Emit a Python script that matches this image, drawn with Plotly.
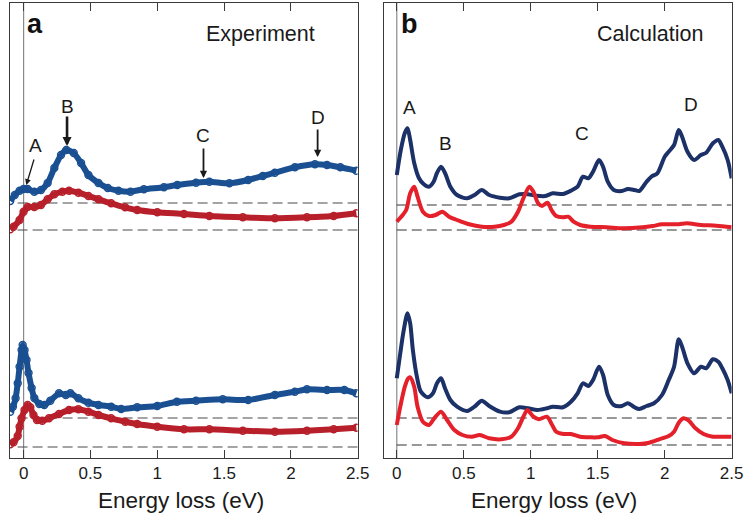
import plotly.graph_objects as go

# ---------------- data (intensity in arbitrary units) ----------------
# Panel a: experiment, top pair
EXP_TOP_BLUE_E = [-0.1, -0.066, -0.03, 0, 0.03, 0.08, 0.13, 0.18, 0.23, 0.28, 0.32, 0.375, 0.43, 0.485,
                  0.56, 0.63, 0.71, 0.8, 0.9, 1.05, 1.15, 1.29, 1.39, 1.54, 1.68, 1.79, 1.88, 2.03, 2.18,
                  2.27, 2.37, 2.49]
EXP_TOP_BLUE_I = [257, 263, 267.3, 269, 269, 266.3, 268, 275, 290, 303, 308, 305, 295, 283,
                  275, 270, 267.3, 266.3, 268.7, 270.7, 273, 275.3, 276.3, 274.7, 278, 282, 285.3, 290.7, 293.7,
                  293, 290.7, 287.3]
EXP_TOP_RED_E = [-0.1, -0.075, -0.03, 0, 0.03, 0.08, 0.13, 0.18, 0.23, 0.29, 0.34, 0.41, 0.485, 0.56,
                 0.655, 0.76, 0.85, 1.0, 1.2, 1.39, 1.64, 1.88, 2.12, 2.32, 2.49]
EXP_TOP_RED_I = [228.7, 231.3, 238, 246.3, 251, 251, 253, 258.7, 263.7, 266.3, 267.3, 265.3, 262, 258.7,
                 254.7, 250.7, 248, 245.7, 244, 242, 240.7, 239.7, 240.7, 242, 244.7]
# Panel a: experiment, bottom pair
EXP_BOT_BLUE_E = [-0.1, -0.08, -0.06, -0.044, -0.03, -0.015, -0.007, 0.007, 0.022, 0.037, 0.06, 0.08,
                  0.118, 0.155, 0.2, 0.265, 0.316, 0.35, 0.41, 0.485, 0.56, 0.655, 0.73, 0.85, 1.0,
                  1.147, 1.29, 1.49, 1.68, 1.88, 2.03, 2.12, 2.27, 2.4, 2.49]
EXP_BOT_BLUE_I = [46.3, 51.3, 59.7, 74.7, 91.3, 108, 113, 108, 98, 85, 70, 60,
                  54, 53, 57.3, 64.7, 63, 64.7, 59.7, 55.3, 53, 51.3, 49, 50.7, 52,
                  56.3, 57.3, 58.7, 58, 63, 66.3, 68.7, 68, 68, 64.7]
EXP_BOT_RED_E = [-0.1, -0.075, -0.044, -0.03, -0.015, 0.007, 0.03, 0.05, 0.074, 0.1, 0.14, 0.19, 0.265,
                 0.34, 0.41, 0.485, 0.56, 0.655, 0.76, 0.85, 1.0, 1.2, 1.39, 1.64, 1.88, 2.12, 2.32, 2.49]
EXP_BOT_RED_I = [13.7, 15.7, 22, 31.3, 39.7, 48, 53, 50.7, 43, 38, 37.3, 39.7, 44,
                 48, 48.7, 46.3, 43, 39.7, 36.3, 34, 31.3, 28.7, 28.7, 27.3, 26.3, 27.3, 28.7, 30.3]

# Panel b: calculation, top pair
CALC_TOP_BLUE_E = [0, 0.03, 0.06, 0.08, 0.1, 0.13, 0.165, 0.2, 0.24, 0.275, 0.3, 0.33, 0.36, 0.4, 0.45,
                   0.525, 0.58, 0.635, 0.69, 0.77, 0.84, 0.915, 0.965, 1.04, 1.11, 1.165, 1.24, 1.3, 1.35,
                   1.39, 1.43, 1.465, 1.51, 1.54, 1.575, 1.62, 1.68, 1.725, 1.775, 1.81, 1.865, 1.9, 1.945,
                   2.0, 2.03, 2.07, 2.105, 2.13, 2.17, 2.22, 2.27, 2.31, 2.36, 2.4, 2.43, 2.47, 2.5]
CALC_TOP_BLUE_I = [283, 308, 325, 329.7, 318, 295, 280, 274, 271.3, 276.3, 285, 291.3, 285, 271.3, 263,
                   259.7, 263, 268, 263, 260.3, 259.7, 263.7, 264, 262.3, 262, 264.7, 264, 267.3, 271.3,
                   281.3, 279.7, 286.3, 298, 291.3, 276.3, 268, 267, 269, 268, 267, 276.3, 281.3, 284.7,
                   301.3, 306.3, 313, 328, 321.3, 306.3, 298, 303, 305.3, 314.7, 318, 311.3, 298, 279.7]
CALC_TOP_RED_E = [0, 0.03, 0.07, 0.1, 0.13, 0.155, 0.195, 0.24, 0.29, 0.34, 0.39, 0.45, 0.54, 0.635, 0.73,
                  0.8, 0.855, 0.905, 0.945, 0.99, 1.02, 1.055, 1.085, 1.125, 1.155, 1.19, 1.24, 1.28, 1.32,
                  1.37, 1.445, 1.57, 1.685, 1.835, 1.91, 1.98, 2.105, 2.165, 2.27, 2.385, 2.5]
CALC_TOP_RED_I = [236.3, 240.7, 248, 264.7, 271.3, 261.3, 246.3, 242, 243, 246.3, 241.3, 238, 233.7, 231.3,
                  231.3, 233, 236.3, 246.3, 259.7, 271.3, 266.3, 254.7, 252, 255.3, 248, 242, 240.7, 241.3,
                  236.3, 233, 231.3, 230.7, 229.7, 230.7, 232, 233.7, 233.7, 234.7, 233, 232.3, 230.7]
# Panel b: calculation, bottom pair
CALC_BOT_BLUE_E = [0, 0.026, 0.05, 0.08, 0.1, 0.12, 0.15, 0.18, 0.23, 0.27, 0.3, 0.33, 0.36, 0.4, 0.45,
                   0.525, 0.58, 0.635, 0.69, 0.77, 0.84, 0.915, 0.98, 1.05, 1.12, 1.165, 1.24, 1.3, 1.35,
                   1.39, 1.43, 1.465, 1.51, 1.54, 1.575, 1.62, 1.68, 1.725, 1.775, 1.81, 1.865, 1.92, 1.98,
                   2.03, 2.07, 2.105, 2.13, 2.17, 2.22, 2.27, 2.31, 2.36, 2.4, 2.43, 2.47, 2.5]
CALC_BOT_BLUE_I = [79.7, 104.7, 126.3, 144.7, 134.7, 108, 81.3, 66.3, 60.7, 64.7, 74.7, 79.7, 69.7, 58, 51.3,
                   47, 51.3, 57.3, 52, 46.3, 45.7, 50.7, 49.7, 48, 49.7, 51.3, 50.7, 56.3, 64.7,
                   74.7, 72, 78, 91.3, 83, 63, 53, 52, 54.7, 50.7, 49, 52, 54.7, 63,
                   78, 91.3, 118.7, 111.3, 94.7, 84.7, 91.3, 89.7, 98.7, 96.3, 89.7, 78, 64.7]
CALC_BOT_RED_E = [0, 0.026, 0.06, 0.085, 0.1, 0.13, 0.155, 0.195, 0.24, 0.28, 0.33, 0.375, 0.43, 0.49,
                  0.56, 0.62, 0.69, 0.78, 0.855, 0.905, 0.945, 0.975, 1.02, 1.06, 1.12, 1.16, 1.19, 1.245,
                  1.3, 1.37, 1.445, 1.5, 1.555, 1.61, 1.7, 1.81, 1.885, 1.96, 2.03, 2.07, 2.105, 2.14,
                  2.18, 2.23, 2.29, 2.36, 2.43, 2.5]
CALC_BOT_RED_I = [33, 51.3, 71.3, 79.7, 80.7, 71.3, 51.3, 36.3, 33, 39.7, 46.3, 38, 28, 23,
                  21.3, 23, 19.7, 18.7, 21.3, 29.7, 41.3, 48, 41.3, 38.7, 41.3, 33, 26.3, 24,
                  24, 21.3, 20.7, 20.7, 22, 18, 14.7, 14, 15.3, 18.7, 22, 26.3, 35.3, 39.7,
                  37.3, 29.7, 24, 21.3, 21.3, 21.3]

# dashed zero lines (baselines) for each panel
EXP_BASELINES = [255, 228, 40, 11]
CALC_BASELINES = [253, 228, 40, 13]

TICK_VALS = [0, 0.5, 1, 1.5, 2, 2.5]
TICK_TEXT = ["0", "0.5", "1", "1.5", "2", "2.5"]

# ---------------- styling ----------------
W, H = 754, 521
EXP_BLUE = "#1a5092"
EXP_RED = "#b71f2a"
CALC_BLUE = "#1b3167"
CALC_RED = "#e4202b"
FONT = "Liberation Sans, Arial, Helvetica, sans-serif"
FRAME = "#3a3a3a"

def px_x(p):
    return p / W

def px_y(p):
    return 1 - p / H

fig = go.Figure()

def exp_trace(E, I, color, xa, ya):
    fig.add_trace(go.Scatter(
        x=E, y=I, mode="lines+markers", xaxis=xa, yaxis=ya,
        line=dict(color=color, width=6, shape="spline", smoothing=0.6),
        marker=dict(symbol="circle-open", size=7, color=color, line=dict(width=1.4, color=color)),
        showlegend=False, hoverinfo="skip"))

def calc_trace(E, I, color, xa, ya):
    fig.add_trace(go.Scatter(
        x=E, y=I, mode="lines", xaxis=xa, yaxis=ya,
        line=dict(color=color, width=4, shape="spline", smoothing=0.8),
        showlegend=False, hoverinfo="skip"))

exp_trace(EXP_TOP_RED_E, EXP_TOP_RED_I, EXP_RED, "x", "y")
exp_trace(EXP_TOP_BLUE_E, EXP_TOP_BLUE_I, EXP_BLUE, "x", "y")
exp_trace(EXP_BOT_RED_E, EXP_BOT_RED_I, EXP_RED, "x", "y")
exp_trace(EXP_BOT_BLUE_E, EXP_BOT_BLUE_I, EXP_BLUE, "x", "y")

calc_trace(CALC_TOP_BLUE_E, CALC_TOP_BLUE_I, CALC_BLUE, "x2", "y2")
calc_trace(CALC_TOP_RED_E, CALC_TOP_RED_I, CALC_RED, "x2", "y2")
calc_trace(CALC_BOT_BLUE_E, CALC_BOT_BLUE_I, CALC_BLUE, "x2", "y2")
calc_trace(CALC_BOT_RED_E, CALC_BOT_RED_I, CALC_RED, "x2", "y2")

shapes = []
for b in EXP_BASELINES:
    shapes.append(dict(type="line", xref="x", yref="y", x0=-0.045, x1=2.5, y0=b, y1=b,
                       line=dict(color="#4a4a4a", width=1.2, dash="10px,5px"), layer="below"))
for b in CALC_BASELINES:
    shapes.append(dict(type="line", xref="x2", yref="y2", x0=0, x1=2.5, y0=b, y1=b,
                       line=dict(color="#333333", width=1.2, dash="10px,5px"), layer="below"))
for xr, yr in (("x", "y domain"), ("x2", "y2 domain")):
    shapes.append(dict(type="line", xref=xr, yref=yr, x0=0, x1=0, y0=0, y1=1,
                       line=dict(color="#8a8a8a", width=1.2), layer="below"))

ann = []
def label(x, y, text, xr="x", yr="y", size=19):
    ann.append(dict(x=x, y=y, xref=xr, yref=yr, text=text, showarrow=False,
                    xanchor="center", yanchor="middle",
                    font=dict(family=FONT, size=size, color="#1a1a1a")))

def arrow(x, y, ax, ay, width=1.3, head=0.9):
    ann.append(dict(x=x, y=y, ax=ax, ay=ay, xref="x", yref="y", axref="x", ayref="y",
                    text="", showarrow=True, arrowhead=2, arrowsize=head, arrowwidth=width,
                    arrowcolor="#1a1a1a"))

# panel a peak labels and arrows
label(0.09, 313, "A")
arrow(0.02, 273, 0.081, 300)
label(0.325, 352, "B")
arrow(0.325, 312, 0.325, 343, width=2.6, head=0.7)
label(1.346, 323, "C")
arrow(1.346, 280, 1.346, 311, width=1.8, head=0.8)
label(2.2, 341, "D")
arrow(2.2, 301, 2.2, 330, width=1.8, head=0.8)

# panel b peak labels
label(0.096, 351, "A", "x2", "y2")
label(0.36, 315, "B", "x2", "y2")
label(1.385, 325, "C", "x2", "y2")
label(2.2, 354, "D", "x2", "y2")

def paper_text(xp, yp, text, size, xanchor="center", bold=False):
    ann.append(dict(x=px_x(xp), y=px_y(yp), xref="paper", yref="paper", xanchor=xanchor,
                    yanchor="middle", text=f"<b>{text}</b>" if bold else text, showarrow=False,
                    font=dict(family=FONT, size=size, color="#111" if bold else "#1a1a1a")))

# panel letters and titles
paper_text(25, 24, "a", 27, xanchor="left", bold=True)
paper_text(405, 24, "b", 27, xanchor="left", bold=True)
paper_text(265, 34, "Experiment", 21.5)
paper_text(661, 34, "Calculation", 21.5)
paper_text(184, 500, "Energy loss (eV)", 22.5)
paper_text(563, 500, "Energy loss (eV)", 22.5)

xcommon = dict(tickvals=TICK_VALS, ticktext=TICK_TEXT, ticks="inside", ticklen=8, tickwidth=1,
               tickcolor=FRAME, showline=True, linecolor=FRAME, linewidth=1, mirror="ticks",
               showgrid=False, zeroline=False, ticklabelstandoff=0,
               tickfont=dict(family=FONT, size=17, color="#1a1a1a"), fixedrange=True)
ycommon = dict(range=[0, 455], showticklabels=False, ticks="", showline=True, linecolor=FRAME,
               linewidth=1, mirror=True, showgrid=False, zeroline=False, fixedrange=True)

ydom = [1 - 458 / H, 1 - 3 / H]
fig.update_layout(
    width=W, height=H, margin=dict(l=0, r=0, t=0, b=0),
    paper_bgcolor="white", plot_bgcolor="white",
    xaxis=dict(domain=[px_x(10), px_x(363.5)], range=[-0.103, 2.5], anchor="y", **xcommon),
    yaxis=dict(domain=ydom, anchor="x", **ycommon),
    xaxis2=dict(domain=[px_x(390), px_x(743.5)], range=[-0.097, 2.5], anchor="y2", **xcommon),
    yaxis2=dict(domain=ydom, anchor="x2", **ycommon),
    shapes=shapes, annotations=ann,
)

fig.write_html("out.html")
